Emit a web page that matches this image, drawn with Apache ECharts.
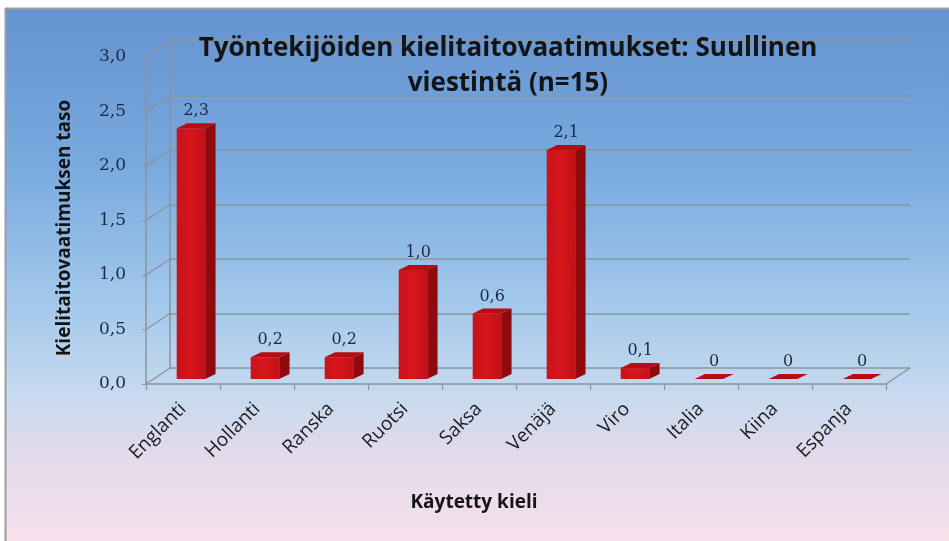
<!DOCTYPE html>
<html>
<head>
<meta charset="utf-8">
<script src="https://cdn.jsdelivr.net/npm/echarts@6/dist/echarts.min.js"></script>
<style>
html,body{margin:0;padding:0;background:#fff;}
#chart{width:949px;height:541px;}
</style>
</head>
<body>
<div id="chart"></div>
<script>
// ---- data ----
var categories = ['Englanti','Hollanti','Ranska','Ruotsi','Saksa','Venäjä','Viro','Italia','Kiina','Espanja'];
var values = [2.3, 0.2, 0.2, 1.0, 0.6, 2.1, 0.1, 0, 0, 0];
var yTicks = [0, 0.5, 1.0, 1.5, 2.0, 2.5, 3.0];
var titleText = 'Työntekijöiden kielitaitovaatimukset: Suullinen\nviestintä (n=15)';
var xName = 'Käytetty kieli';
var yName = 'Kielitaitovaatimuksen taso';

// ---- layout constants ----
var DX = 24, DY = -16;       // 3D wall offset
var G = {left:146, right:63, top:57, bottom:157};

function fmt(v){ return v === 0 ? '0' : v.toFixed(1).replace('.', ','); }

var chart = echarts.init(document.getElementById('chart'));

var option = {
  backgroundColor: {
    type:'linear', x:0, y:0, x2:0, y2:1,
    colorStops:[
      {offset:0, color:'#6391d0'},
      {offset:0.3, color:'#78a9de'},
      {offset:0.55, color:'#a1c7eb'},
      {offset:0.72, color:'#c4d9ef'},
      {offset:0.86, color:'#e6dbeb'},
      {offset:1, color:'#f7e0ea'}
    ]
  },
  animation:false,
  title:[{
    text:titleText, left:503, top:26, textAlign:'center',
    textStyle:{fontFamily:'Open Sans', fontWeight:'bold', fontSize:26, color:'#141414', lineHeight:35}
  },{
    text:xName, left:469, top:488, textAlign:'center',
    textStyle:{fontFamily:'Open Sans', fontWeight:'bold', fontSize:19, color:'#141414'}
  }],
  grid:[
    {left:G.left, right:G.right, top:G.top, bottom:G.bottom},
    {left:G.left+DX, right:G.right-DX, top:G.top+DY, bottom:G.bottom-DY}
  ],
  xAxis:[{
    type:'category', data:categories, gridIndex:0,
    axisLine:{show:true, lineStyle:{color:'#8e9299', width:1.5}},
    axisTick:{show:true, length:6, lineStyle:{color:'#8e9299', width:1.2}},
    axisLabel:{rotate:45, margin:22, fontFamily:'Open Sans', fontSize:19, color:'#1c1c1c'}
  },{
    type:'category', data:categories, gridIndex:1, show:false
  }],
  yAxis:[{
    type:'value', gridIndex:0, min:0, max:3, interval:0.5,
    axisLine:{show:true, lineStyle:{color:'#8e9299', width:1.5}},
    axisTick:{show:true, length:4, lineStyle:{color:'#8e9299'}},
    splitLine:{show:false},
    axisLabel:{margin:20, formatter:function(v){return v.toFixed(1).replace('.', ',');},
      fontFamily:'DejaVu Serif', fontSize:17, color:'#1b2a44'}
  },{
    type:'value', gridIndex:1, min:0, max:3, interval:0.5,
    axisLine:{show:true, lineStyle:{color:'#8e9299', width:1.5}},
    axisTick:{show:false}, axisLabel:{show:false},
    splitLine:{show:true, lineStyle:{color:'#86979a', width:1.6}}
  }],
  graphic:[
    {type:'rect', shape:{x:0,y:0,width:949,height:8}, style:{fill:'#ffffff'}, z:100},
    {type:'line', shape:{x1:5,y1:8.5,x2:949,y2:8.5}, style:{stroke:'#9a9ea6', lineWidth:2}, z:100},
    {type:'rect', shape:{x:0,y:0,width:5,height:541}, style:{fill:'#ffffff'}, z:100},
    {type:'line', shape:{x1:5.5,y1:8,x2:5.5,y2:541}, style:{stroke:'#9a9ea6', lineWidth:2}, z:100},
    {type:'text', x:65, y:228, rotation:Math.PI/2,
      style:{text:yName, align:'center', verticalAlign:'middle',
        font:'bold 19px "Open Sans"', fill:'#141414'}, z:50}
  ],
  series:[
    { // diagonal connectors from front axis ticks to back wall
      type:'custom', xAxisIndex:0, yAxisIndex:0, silent:true, z:1,
      data: yTicks.map(function(t){return [0,t];}),
      renderItem:function(params, api){
        var p = api.coord([api.value(0), api.value(1)]);
        var bw = api.size([1,0])[0];
        var x0 = p[0]-bw/2;
        return {type:'line', shape:{x1:x0, y1:p[1], x2:x0+DX, y2:p[1]+DY},
          style:{stroke:'#8e9299', lineWidth:1.3}};
      }
    },
    { // right floor edge
      type:'custom', xAxisIndex:0, yAxisIndex:0, silent:true, z:1,
      data:[[categories.length-1, 0]],
      renderItem:function(params, api){
        var p = api.coord([api.value(0), api.value(1)]);
        var bw = api.size([1,0])[0];
        var x0 = p[0]+bw/2;
        return {type:'line', shape:{x1:x0, y1:p[1], x2:x0+DX, y2:p[1]+DY},
          style:{stroke:'#8e9299', lineWidth:1.5}};
      }
    },
    { // 3D bars
      type:'custom', xAxisIndex:0, yAxisIndex:0, z:5,
      data: values.map(function(v,i){return [i,v];}),
      renderItem:function(params, api){
        var i = api.value(0), v = api.value(1);
        var b = api.coord([i,0]), t = api.coord([i,v]);
        var bw = api.size([1,0])[0];
        var w = bw*0.385, dx = bw*0.14, dy = -5;
        var fl = b[0] - bw*0.085, fr = fl + w;
        var base = b[1]-5, top = t[1]-5;
        return {type:'group', children:[
          {type:'polygon', shape:{points:[[fr,top],[fr+dx,top+dy],[fr+dx,base+dy],[fr,base]]},
            style:{fill:'#8f0a0c'}},
          {type:'rect', shape:{x:fl, y:top, width:w, height:base-top},
            style:{fill:{type:'linear',x:0,y:0,x2:1,y2:0,colorStops:[{offset:0,color:'#c8121a'},{offset:0.5,color:'#d8161c'},{offset:1,color:'#c01016'}]}}},
          {type:'polygon', shape:{points:[[fl,top],[fr,top],[fr+dx,top+dy],[fl+dx,top+dy]]},
            style:{fill:'#b80c12'}},
          {type:'text', style:{text:fmt(v), x:fl+(w+dx)/2, y:top+dy-4, align:'center', verticalAlign:'bottom',
            font:'16px "DejaVu Serif"', fill:'#1b2a44'}}
        ]};
      }
    }
  ]
};
chart.setOption(option);
</script>
</body>
</html>
